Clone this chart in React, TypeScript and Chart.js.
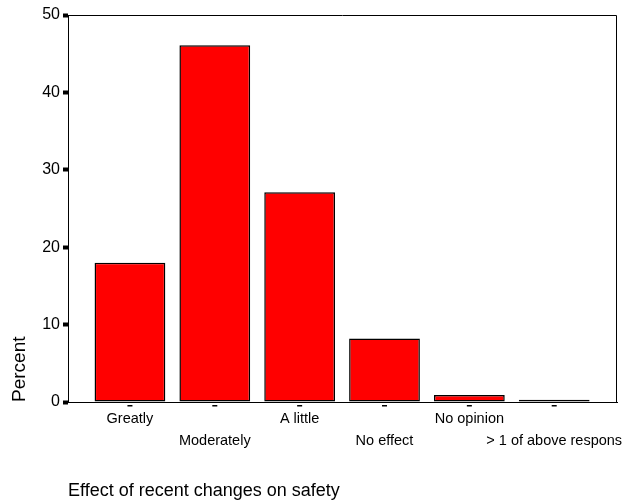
import React, { useEffect, useRef } from 'react';
import { Chart, registerables } from 'chart.js';

Chart.register(...registerables);

const categories = ['Greatly', 'Moderately', 'A little', 'No effect', 'No opinion', '> 1 of above respons'];
const percents = [18.0, 46.1, 27.1, 8.2, 0.9, 0.3];
const yTickValues = [0, 10, 20, 30, 40, 50];
const xTitle = 'Effect of recent changes on safety';
const yTitle = 'Percent';

const FONT = '"Liberation Sans", Arial, sans-serif';

const framePlugin = {
  id: 'frameAndDashes',
  afterDraw(chart: any) {
    const { ctx, chartArea: a, scales } = chart;
    ctx.save();
    ctx.strokeStyle = '#000';
    ctx.lineWidth = 1;
    ctx.beginPath();
    const l = Math.round(a.left) + 0.5;
    const t = Math.round(a.top) + 0.5;
    const r = Math.round(a.right) - 0.5;
    const b = Math.round(a.bottom) + 0.5;
    ctx.moveTo(l, t);
    ctx.lineTo(r, t);
    ctx.lineTo(r, b);
    ctx.stroke();
    const xs = scales.x;
    ctx.fillStyle = '#000';
    categories.forEach((_, i) => {
      const px = xs.getPixelForValue(i);
      ctx.fillRect(px - 2.5, a.bottom + 3, 5, 1.5);
    });
    ctx.restore();
  },
};

export default function App() {
  const ref = useRef<HTMLCanvasElement>(null);
  useEffect(() => {
    if (!ref.current) return;
    const chart = new Chart(ref.current, {
      type: 'bar',
      data: {
        datasets: [
          {
            data: percents.map((v, i) => ({ x: i, y: v })),
            backgroundColor: '#ff0000',
            borderColor: '#000',
            borderWidth: 1.5,
            borderSkipped: false,
            categoryPercentage: 1,
            barPercentage: 0.834,
          } as any,
        ],
      },
      options: {
        responsive: false,
        animation: false,
        layout: { padding: { top: 15, right: 6, left: 0, bottom: 0 } },
        plugins: { legend: { display: false }, tooltip: { enabled: false }, title: { display: false } },
        scales: {
          x: {
            type: 'linear',
            min: -0.73,
            max: 5.74,
            offset: false,
            afterFit: (s: any) => {
              s.height = 98;
              s.paddingLeft = 0;
              s.paddingRight = 0;
            },
            afterBuildTicks: (s: any) => {
              s.ticks = categories.map((_, i) => ({ value: i }));
            },
            grid: { display: false, drawTicks: false, offset: false },
            border: { display: true, color: '#000', width: 1 },
            ticks: {
              autoSkip: false,
              maxRotation: 0,
              minRotation: 0,
              padding: 6.75,
              color: '#000',
              font: { family: FONT, size: 14.5, lineHeight: 1.48 },
              callback: (value: any, index: number) => {
                const lbl = categories[Math.round(Number(value))];
                return index % 2 === 0 ? lbl : ['', lbl];
              },
            },
            title: {
              display: true,
              text: xTitle,
              align: 'start',
              color: '#000',
              padding: 0,
              font: { family: FONT, size: 18, lineHeight: 1 },
            },
          },
          y: {
            type: 'linear',
            min: 0,
            max: 50,
            afterFit: (s: any) => {
              s.width = 68;
              s.paddingTop = 0;
              s.paddingBottom = 0;
            },
            afterBuildTicks: (s: any) => {
              s.ticks = yTickValues.map((v) => ({ value: v }));
            },
            grid: {
              drawOnChartArea: false,
              drawTicks: true,
              tickLength: 5,
              tickWidth: 4,
              tickColor: '#000',
              color: '#000',
            },
            border: { display: true, color: '#000', width: 1 },
            ticks: {
              color: '#000',
              padding: 3,
              font: { family: FONT, size: 16 },
            },
            title: {
              display: true,
              text: yTitle,
              align: 'start',
              color: '#000',
              padding: { top: 8, bottom: 0 },
              font: { family: FONT, size: 19, lineHeight: 1.2 },
            },
          },
        },
      },
      plugins: [framePlugin],
    } as any);
    return () => chart.destroy();
  }, []);
  return (
    <div style={{ position: 'fixed', left: 0, top: 0, width: 623, height: 500, background: '#fff' }}>
      <canvas ref={ref} width={623} height={500} style={{ display: 'block' }} />
    </div>
  );
}
